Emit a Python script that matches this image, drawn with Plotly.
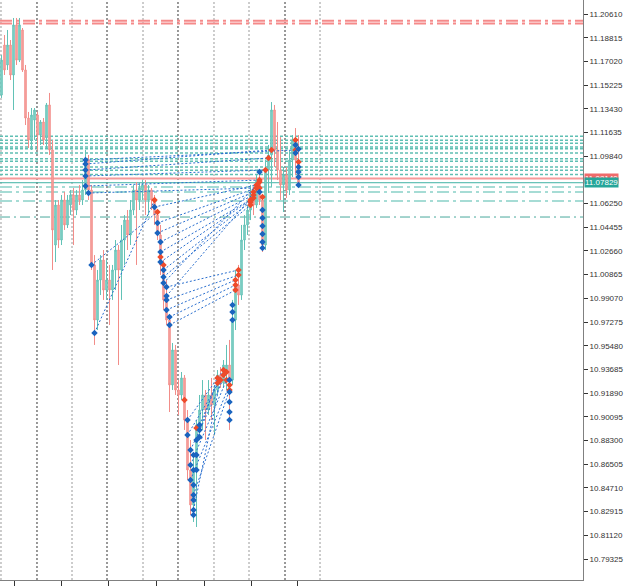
import plotly.graph_objects as go

# ---------------- candles (index, OHLC) ----------------
opens = [11.1447, 11.1826, 11.1675, 11.1826, 11.1599, 11.1978, 11.1712, 11.1940, 11.1637, 11.1273,
         11.1107, 11.1258, 11.1296, 11.1144, 11.1243, 11.1122, 11.1372, 11.1031, 11.0311, 11.0614,
         11.0349, 11.0652, 11.0463, 11.0614, 11.0690, 11.0576, 11.0690, 11.0652, 11.0728, 11.0955,
         11.0728, 11.0160, 10.9743, 11.0046, 11.0197, 10.9970, 11.0046, 10.9970, 11.0122, 11.0273,
         11.0122, 11.0349, 11.0500, 11.0387, 11.0576, 11.0728, 11.0652, 11.0728, 11.0766, 11.0652,
         11.0728, 11.0652, 11.0538, 11.0387, 11.0160, 10.9895, 10.9743, 10.9251, 10.9516, 10.9213,
         10.9175, 10.9304, 10.8985, 10.8607, 10.8342, 10.8607, 10.8948, 10.9061, 10.9175, 10.9061,
         10.9175, 10.9099, 10.9213, 10.9326, 10.9266, 10.9364, 10.9402, 10.9288, 10.9743, 11.0008,
         10.9932, 11.0349, 11.0463, 11.0576, 11.0690, 11.0614, 11.0803, 11.0652, 11.0311, 11.0879,
         11.0993, 11.1334, 11.1031, 11.0879, 11.0766, 11.0841, 11.0728, 11.0955, 11.1107, 11.0955]
highs = [11.1750, 11.1902, 11.1940, 11.1864, 11.2031, 11.2031, 11.2031, 11.1955, 11.1675, 11.1319,
         11.1349, 11.1349, 11.1319, 11.1258, 11.1273, 11.1387, 11.1463, 11.1107, 11.0652, 11.0652,
         11.0690, 11.0713, 11.0690, 11.0728, 11.0743, 11.0728, 11.0766, 11.0803, 11.1031, 11.0993,
         11.0766, 11.0235, 11.0122, 11.0235, 11.0273, 11.0197, 11.0160, 11.0160, 11.0349, 11.0311,
         11.0463, 11.0538, 11.0576, 11.0652, 11.0766, 11.0788, 11.0788, 11.0803, 11.0803, 11.0766,
         11.0743, 11.0690, 11.0576, 11.0463, 11.0197, 11.0046, 10.9781, 10.9569, 10.9554, 10.9288,
         10.9349, 10.9326, 10.9061, 10.8834, 10.8720, 10.8985, 10.9175, 10.9288, 10.9213, 10.9288,
         10.9304, 10.9251, 10.9364, 10.9387, 10.9440, 10.9554, 10.9592, 10.9895, 11.0122, 11.0160,
         11.0463, 11.0538, 11.0614, 11.0766, 11.0743, 11.0841, 11.0879, 11.0690, 11.0955, 11.1069,
         11.1394, 11.1372, 11.1243, 11.1129, 11.0902, 11.0902, 11.1031, 11.1144, 11.1197, 11.1144]
lows = [11.1425, 11.1599, 11.1637, 11.1561, 11.1334, 11.1675, 11.1697, 11.1622, 11.1220, 11.1046,
        11.1031, 11.1107, 11.1031, 11.1069, 11.1069, 11.1046, 11.0993, 11.0122, 11.0182, 11.0288,
        11.0311, 11.0425, 11.0440, 11.0538, 11.0311, 11.0538, 11.0614, 11.0614, 11.0690, 11.0652,
        11.0122, 10.9554, 10.9667, 10.9932, 10.9895, 10.9895, 10.9705, 10.9895, 10.9970, 10.9402,
        10.9895, 11.0160, 11.0273, 11.0311, 11.0538, 11.0160, 11.0576, 11.0652, 11.0538, 11.0538,
        11.0576, 11.0463, 11.0349, 11.0084, 10.9819, 10.9705, 10.9046, 10.9213, 10.9175, 10.9023,
        10.9137, 10.8910, 10.8531, 10.8266, 10.8213, 10.8175, 10.8834, 10.8910, 10.8834, 10.9023,
        10.8985, 10.8872, 10.9175, 10.9228, 10.9228, 10.9213, 10.8910, 10.9251, 10.9667, 10.9857,
        10.9895, 11.0273, 11.0387, 11.0500, 11.0538, 11.0592, 11.0614, 11.0258, 11.0273, 11.0705,
        11.0751, 11.0902, 11.0803, 11.0652, 11.0561, 11.0667, 11.0690, 11.0826, 11.0841, 11.0766]
closes = [11.1712, 11.1637, 11.1826, 11.1599, 11.1978, 11.1712, 11.1978, 11.1637, 11.1273, 11.1107,
          11.1296, 11.1334, 11.1144, 11.1243, 11.1107, 11.1372, 11.1031, 11.0425, 11.0614, 11.0349,
          11.0652, 11.0463, 11.0652, 11.0690, 11.0576, 11.0690, 11.0652, 11.0728, 11.0955, 11.0728,
          11.0160, 10.9743, 11.0046, 11.0197, 10.9970, 11.0046, 10.9970, 11.0122, 11.0273, 11.0122,
          11.0349, 11.0500, 11.0387, 11.0576, 11.0728, 11.0652, 11.0743, 11.0766, 11.0652, 11.0728,
          11.0652, 11.0538, 11.0387, 11.0160, 10.9895, 10.9743, 10.9251, 10.9516, 10.9213, 10.9175,
          10.9304, 10.8985, 10.8607, 10.8342, 10.8607, 10.8948, 10.9061, 10.9175, 10.9061, 10.9175,
          10.9099, 10.9213, 10.9326, 10.9266, 10.9402, 10.9402, 10.9288, 10.9743, 11.0008, 10.9932,
          11.0349, 11.0463, 11.0576, 11.0690, 11.0614, 11.0803, 11.0652, 11.0311, 11.0879, 11.0993,
          11.1334, 11.1031, 11.0879, 11.0766, 11.0841, 11.0728, 11.0955, 11.1107, 11.0955, 11.0783]
bar_index = list(range(len(opens)))

# ---------------- trades (buy positions: entry -> exit) ----------------
open_idx = [28, 28, 28, 28, 28, 29, 30, 31,
            51, 52, 52, 53, 53, 53, 54, 54, 54, 55,
            55, 55, 55, 56, 56,
            62, 62, 63, 63, 63, 64, 64, 65, 66]
open_px = [11.0955, 11.0925, 11.0879, 11.0834, 11.0758, 11.0705, 11.0160, 10.9645,
           11.0599, 11.0478, 11.0402, 11.0334, 11.0258, 11.0182, 11.0122, 11.0069, 11.0023, 10.9925,
           10.9993, 10.9895, 10.9819, 10.9766, 10.9705,
           10.8985, 10.8872, 10.8758, 10.8645, 10.8531, 10.8417, 10.8304, 10.8834, 10.8948]
close_idx = [98, 90, 89, 88, 86, 85, 52, 51,
             85, 85, 84, 84, 84, 83, 83, 83, 86, 86,
             79, 79, 78, 78, 78,
             74, 74, 75, 75, 76, 76, 73, 72, 72]
close_px = [11.1031, 11.1031, 11.0970, 11.0879, 11.0803, 11.0743, 11.0561, 11.0652,
            11.0766, 11.0743, 11.0713, 11.0690, 11.0667, 11.0652, 11.0637, 11.0614, 11.0788, 11.0743,
            11.0122, 11.0084, 11.0046, 11.0008, 10.9970,
            10.9364, 10.9326, 10.9349, 10.9288, 10.9251, 10.9213, 10.9288, 10.9304, 10.9266]

# other deals without drawn connections
deal_idx = [76, 76, 76, 76, 76, 77, 77, 77,
            87, 87, 87, 87, 87, 87, 86, 86, 87,
            98, 98, 98, 99, 99, 99, 99, 99, 99,
            64, 64, 64, 64, 64, 66, 66, 65, 65, 61, 65,
            53, 54]
deal_px = [10.9288, 10.9197, 10.9122, 10.9046, 10.8985, 10.9857, 10.9804, 10.9743,
           11.0576, 11.0516, 11.0455, 11.0394, 11.0334, 11.0288, 11.0864, 11.0713, 11.0675,
           11.1107, 11.1069, 11.1008, 11.1038, 11.0902, 11.0864, 11.0826, 11.0766, 11.0940,
           10.8720, 10.8607, 10.8493, 10.8380, 10.8266, 10.8910, 10.8857, 10.8720, 10.8925, 10.9137, 10.8607,
           11.0220, 11.0160]
deal_side = ["buy", "buy", "buy", "buy", "buy", "buy", "buy", "buy",
             "buy", "buy", "buy", "buy", "buy", "buy", "buy", "buy", "sell",
             "sell", "buy", "buy", "buy", "buy", "buy", "buy", "buy", "sell",
             "buy", "buy", "buy", "buy", "buy", "buy", "buy", "buy", "sell", "sell", "buy",
             "sell", "sell"]

# ---------------- horizontal levels ----------------
alert_levels = [11.2009, 11.1990]
tp_levels = [11.1135, 11.1104, 11.1081, 11.1053, 11.1041, 11.1008, 11.0965, 11.0945, 11.0902, 11.0877, 11.0846]
sl_levels = [11.0750, 11.0712, 11.0645]
base_level = [11.0523]
ask_price = 11.08140
bid_price = 11.07829

# period separators (bar index) and bottom ticks
separators = [-0.17, 11.83, 23.5, 35.17, 47.17, 58.83, 70.83, 82.5, 94.5, 106.17]
sep_dark = [False, True, False, True, False, True, False, False, True, False]
x_ticks = [4.3, 20.0, 35.8, 51.6, 67.5, 83.2, 98.8]

# price scale
price_ticks = [11.20610, 11.18815, 11.17020, 11.15225, 11.13430, 11.11635, 11.09840, 11.06250,
               11.04455, 11.02660, 11.00865, 10.99070, 10.97275, 10.95480, 10.93685, 10.91890,
               10.90095, 10.88300, 10.86505, 10.84710, 10.82915, 10.81120, 10.79325]
y_range = [10.77734, 11.21671]
x_range = [-0.5, 193.83]

fig = go.Figure()

shapes = []
for s, dark in zip(separators, sep_dark):
    shapes.append(dict(type="line", xref="x", yref="paper", x0=s, x1=s, y0=0, y1=1,
                       line=dict(color="#333333" if dark else "#9a9a9a", width=1, dash="2px,2px"),
                       layer="below"))
for lv in alert_levels:
    shapes.append(dict(type="line", xref="paper", yref="y", x0=0, x1=1, y0=lv, y1=lv,
                       line=dict(color="#f58a8a", width=2, dash="12px,4px,3px,4px"), layer="below"))
for lv in tp_levels:
    shapes.append(dict(type="line", xref="paper", yref="y", x0=0, x1=1, y0=lv, y1=lv,
                       line=dict(color="#5fbfb3", width=1.5, dash="3px,2px"), layer="below"))
for lv in sl_levels:
    shapes.append(dict(type="line", xref="paper", yref="y", x0=0, x1=1, y0=lv, y1=lv,
                       line=dict(color="#a6dcd5", width=2, dash="12px,4px,3px,4px"), layer="below"))
for lv in base_level:
    shapes.append(dict(type="line", xref="paper", yref="y", x0=0, x1=1, y0=lv, y1=lv,
                       line=dict(color="#4aa89c", width=1, dash="10px,4px,2px,4px"), layer="below"))
shapes.append(dict(type="line", xref="paper", yref="y", x0=0, x1=1, y0=ask_price, y1=ask_price,
                   line=dict(color="#f59a9a", width=2), layer="below"))
shapes.append(dict(type="line", xref="paper", yref="y", x0=0, x1=1, y0=bid_price, y1=bid_price,
                   line=dict(color="#3fb3a5", width=1), layer="below"))

fig.add_trace(go.Candlestick(
    x=bar_index, open=opens, high=highs, low=lows, close=closes,
    increasing=dict(line=dict(color="#62c2b6", width=1), fillcolor="#8fd5cc"),
    decreasing=dict(line=dict(color="#f28d89", width=1), fillcolor="#f7aaa7"),
    whiskerwidth=0, hoverinfo="skip"))

lx, ly = [], []
for a, b, c, d in zip(open_idx, open_px, close_idx, close_px):
    lx += [a, c, None]
    ly += [b, d, None]
fig.add_trace(go.Scatter(x=lx, y=ly, mode="lines",
                         line=dict(color="#2a6fcf", width=1, dash="2px,2px"), hoverinfo="skip"))

buy_x = list(open_idx) + [i for i, s in zip(deal_idx, deal_side) if s == "buy"]
buy_y = list(open_px) + [p for p, s in zip(deal_px, deal_side) if s == "buy"]
sell_x = list(close_idx) + [i for i, s in zip(deal_idx, deal_side) if s == "sell"]
sell_y = list(close_px) + [p for p, s in zip(deal_px, deal_side) if s == "sell"]

fig.add_trace(go.Scatter(x=sell_x, y=sell_y, mode="markers",
                         marker=dict(symbol="diamond", size=5, color="#ee4b2b"), hoverinfo="skip"))
fig.add_trace(go.Scatter(x=buy_x, y=buy_y, mode="markers",
                         marker=dict(symbol="diamond", size=5, color="#1a64bf"), hoverinfo="skip"))

annotations = [
    dict(xref="paper", yref="y", x=1, y=ask_price, xanchor="left", yanchor="middle",
         text=f"{ask_price:.5f}", showarrow=False, bgcolor="#ef6b6b",
         font=dict(family="Liberation Sans", size=8, color="white"), borderpad=0, xshift=1),
    dict(xref="paper", yref="y", x=1, y=bid_price, xanchor="left", yanchor="middle",
         text=f"{bid_price:.5f}", showarrow=False, bgcolor="#26a69a",
         font=dict(family="Liberation Sans", size=8, color="white"), borderpad=0, xshift=1),
]

fig.update_layout(
    width=625, height=586,
    margin=dict(l=0, r=42, t=0, b=6),
    paper_bgcolor="white", plot_bgcolor="white",
    showlegend=False,
    shapes=shapes, annotations=annotations,
    xaxis=dict(range=x_range, showgrid=False, zeroline=False, showline=True, linecolor="#808080",
               ticks="outside", ticklen=5, tickcolor="#333333", tickvals=x_ticks,
               ticktext=[""] * len(x_ticks), rangeslider=dict(visible=False), fixedrange=True),
    yaxis=dict(range=y_range, side="right", showgrid=False, zeroline=False, showline=True,
               linecolor="#808080", ticks="outside", ticklen=4, tickcolor="#333333",
               tickvals=price_ticks, ticktext=[f"{v:.5f}" for v in price_ticks],
               tickfont=dict(family="Liberation Sans", size=8, color="#333333"), fixedrange=True),
)

fig.write_html("out.html")
